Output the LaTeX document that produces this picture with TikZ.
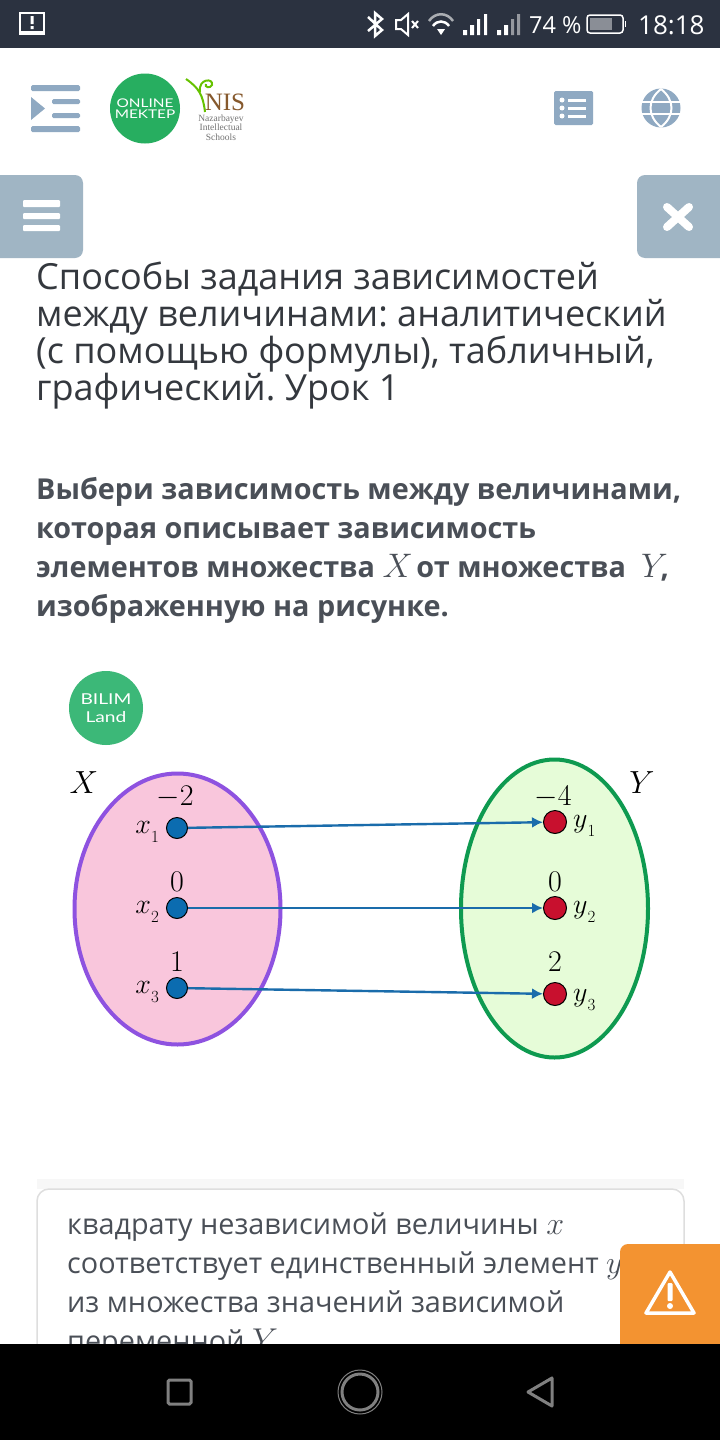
\documentclass[tikz,border=0pt]{standalone}
\usepackage{fix-cm}
\usepackage{fontspec}
\setmainfont{Open Sans}
\newfontfamily\nisfont{Liberation Serif}
\newfontfamily\logofont[FakeStretch=1.28]{Lato}
\usetikzlibrary{shapes.geometric,arrows.meta,positioning}
\definecolor{statusbar}{RGB}{43,50,64}
\definecolor{iconblue}{RGB}{143,169,194}
\definecolor{btngray}{RGB}{160,181,196}
\definecolor{headtext}{RGB}{52,56,62}
\definecolor{asktext}{RGB}{74,79,87}
\definecolor{logogreen}{RGB}{39,174,96}
\definecolor{bilimgreen}{RGB}{60,184,120}
\definecolor{setxfill}{RGB}{249,198,220}
\definecolor{setxline}{RGB}{142,82,224}
\definecolor{setyfill}{RGB}{230,252,216}
\definecolor{setyline}{RGB}{14,154,80}
\definecolor{dotblue}{RGB}{11,108,176}
\definecolor{dotred}{RGB}{200,16,46}
\definecolor{arrowblue}{RGB}{26,108,171}
\definecolor{warn}{RGB}{243,147,49}
\newcommand{\bigmath}[2]{{\fontsize{#1}{#1}\selectfont$#2$}}
\newcommand{\lowsub}[2]{$#1\lower9pt\hbox{\fontsize{17}{17}\selectfont$#2$}$}
\tikzset{head/.style={anchor=base west, inner sep=0pt, text=headtext, font=\frenchspacing\fontsize{36}{36}\selectfont}}
\tikzset{ask/.style={anchor=base west, inner sep=0pt, text=asktext, font=\frenchspacing\bfseries\fontsize{28.8}{30}\selectfont}}
\tikzset{answer/.style={anchor=base west, inner sep=0pt, text=asktext, font=\frenchspacing\fontsize{28.8}{29}\selectfont}}
\tikzset{status/.style={anchor=base west, inner sep=0pt, text=white, font=\fontsize{23.5}{25}\selectfont}}
\tikzset{setx/.style={ellipse, draw=setxline, fill=setxfill, line width=4pt, minimum width=206pt, minimum height=271pt, inner sep=0pt}}
\tikzset{sety/.style={ellipse, draw=setyline, fill=setyfill, line width=4pt, minimum width=187pt, minimum height=298pt, inner sep=0pt}}
\tikzset{xdot/.style={circle, draw=black, fill=dotblue, line width=1pt, minimum size=21pt, inner sep=0pt}}
\tikzset{ydot/.style={circle, draw=black, fill=dotred, line width=1pt, minimum size=23pt, inner sep=0pt}}
\tikzset{val/.style={inner sep=0pt, font=\fontsize{30}{30}\selectfont}}
\tikzset{sub/.style={inner sep=0pt, font=\fontsize{28}{28}\selectfont}}
\tikzset{line/.style={draw=arrowblue, line width=2.4pt, -{Latex[length=11pt,width=11pt]}}}
\tikzset{bar/.style={fill=iconblue, rounded corners=1.5pt}}
\tikzset{btn/.style={fill=btngray, rounded corners=8pt}}
\tikzset{navicon/.style={draw=black!50!white, line width=3pt}}
\begin{document}
\begin{tikzpicture}[x=1pt,y=-1pt,node distance=5pt]
  \useasboundingbox (0,0) rectangle (720,1440);
  \fill[white] (0,0) rectangle (720,1440);

  % status bar
  \fill[statusbar] (0,0) rectangle (720,48);
  \draw[white, line width=2.5pt] (20,13) rectangle (44,32);
  \fill[white] (19,32) rectangle (45,35);
  \fill[white] (30.5,16) rectangle (33.5,24) (30.5,26) rectangle (33.5,29);
  \draw[white, line width=2.5pt] (368,17) -- (382,30) -- (375,36) -- (375,13) -- (382,19) -- (368,31);
  \draw[white, line width=2pt] (396,20) -- (401,20) -- (408,14) -- (408,35) -- (401,29) -- (396,29) -- cycle;
  \draw[white, line width=2pt] (412,21) -- (418,28) (418,21) -- (412,28);
  \draw[white!60!statusbar, line width=2.5pt] (429,21) .. controls (435,12) and (447,12) .. (453,21);
  \draw[white, line width=2.5pt] (433,26) .. controls (437,20) and (445,20) .. (449,26);
  \fill[white] (437,29) -- (445,29) -- (441,35) -- cycle;
  \fill[white] (463,30) rectangle (467,35) (470,25) rectangle (474,35) (477,19) rectangle (480,35) (484,14) rectangle (487,35);
  \fill[white] (497,30) rectangle (501,35) (504,25) rectangle (508,35);
  \fill[white!50!statusbar] (511,19) rectangle (514,35) (517,14) rectangle (520,35);
  \node[status] (level) at (529,33) {74 \%};
  \draw[white, line width=1.5pt, rounded corners=3pt] (587,15) rectangle (623,33);
  \fill[white!45!statusbar] (590,18) rectangle (612,30);
  \fill[white] (624.5,21) rectangle (626,27);
  \node[status, font=\fontsize{26}{27}\selectfont] (clock) at (638,34) {18:18};

  % top bar
  \fill[bar] (31,85) rectangle (80,91) (31,126) rectangle (80,132);
  \fill[bar] (52,99) rectangle (80,104) (52,113) rectangle (80,118);
  \fill[iconblue] (31,97) -- (45,108.5) -- (31,120) -- cycle;
  \node[circle, fill=logogreen, minimum size=70pt, inner sep=0pt, align=center, text=white,
    font=\logofont\fontsize{12}{11}\selectfont] (online) at (145,108.5) {ONLINE\\MEKTEP};
  \draw[green!60!black!60!yellow, line width=2pt] (205,112) .. controls (203,95) and (199,88) .. (186,79);
  \draw[green!60!black!60!yellow, line width=2pt] (200,92) .. controls (198,78) and (214,78) .. (212,85) .. controls (210,89) and (204,87) .. (206,84);
  \node[inner sep=0pt, text=brown!70!black, font=\nisfont\fontsize{25}{25}\selectfont] (nis) at (225,102) {NIS};
  \node[below=4pt of nis, xshift=-4pt, inner sep=0pt, align=center, text=black!55, font=\nisfont\fontsize{9.5}{9.5}\selectfont] (nisname) {Nazarbayev\\Intellectual\\Schools};
  \fill[bar] (554,91) rectangle (593,125);
  \foreach \ypos in {100,108,116} {
    \fill[white] (562,\ypos) circle (2.5pt);
    \fill[white] (568,\ypos-1.5) rectangle (586,\ypos+1.5);
  }
  \fill[iconblue] (661,108) circle (19.5pt);
  \draw[white, line width=2pt] (642,102) -- (680,102) (642,114) -- (680,114);
  \draw[white, line width=2pt] (661,89) .. controls (647,100) and (647,116) .. (661,127);
  \draw[white, line width=2pt] (661,89) .. controls (675,100) and (675,116) .. (661,127);

  % side buttons
  \fill[btn] (-10,175) rectangle (83,258);
  \fill[btn] (637,175) rectangle (730,258);
  \fill[white, rounded corners=1pt] (23,200) rectangle (60,207) (23,213) rectangle (60,219) (23,225) rectangle (60,231);
  \draw[white, line width=8pt, line cap=round] (667,207) -- (689,227) (689,207) -- (667,227);

  % texts
  \node[head] (title1) at (36,289) {Способы задания зависимостей};
  \node[head] (title2) at (36,326) {между величинами: аналитический};
  \node[head] (title3) at (36,363) {(с помощью формулы), табличный,};
  \node[head] (title4) at (36,400) {графический. Урок 1};
  \node[ask] (ask1) at (36,499) {Выбери зависимость между величинами,};
  \node[ask] (ask2) at (36,538) {которая описывает зависимость};
  \node[ask] (ask3) at (36,577) {элементов множества \bigmath{34}{X}\hspace{-4pt} от множества \ \bigmath{34}{Y}\hspace{-7pt},};
  \node[ask] (ask4) at (36,616) {изображенную на рисунке.};

  % diagram
  \node[circle, fill=bilimgreen, minimum size=74pt, inner sep=0pt, align=center, text=white,
    font=\logofont\fontsize{15}{18}\selectfont] (bilim) at (106,708) {BILIM\\Land};
  \node[setx] (setX) at (177.5,909) {};
  \node[sety] (setY) at (554.5,908.5) {};
  \node[xdot] (x1) at (177,828) {};
  \node[xdot] (x2) at (177,908) {};
  \node[xdot] (x3) at (177,988) {};
  \node[ydot] (y1) at (555,822) {};
  \node[ydot] (y2) at (555,908) {};
  \node[ydot] (y3) at (555,994) {};
  \path[line] (x1) -- (y1);
  \path[line] (x2) -- (y2);
  \path[line] (x3) -- (y3);

  \node[val, font=\fontsize{32}{32}\selectfont] (nameX) at (84,783) {$X$};
  \node[val, font=\fontsize{32}{32}\selectfont] (nameY) at (642,783) {$Y$};
  \node[val, above=9pt of x1, xshift=-2pt] (vx1) {$-2$};
  \node[val, above=5pt of x2] (vx2) {$0$};
  \node[val, above=5pt of x3] (vx3) {$1$};
  \node[val, above=2pt of y1, xshift=-2pt] (vy1) {$-4$};
  \node[val, above=4pt of y2] (vy2) {$0$};
  \node[val, above=10pt of y3] (vy3) {$2$};
  \node[sub, left=7pt of x1, yshift=-4pt] (lx1) {\lowsub{x}{1}};
  \node[sub, left=7pt of x2, yshift=-4pt] (lx2) {\lowsub{x}{2}};
  \node[sub, left=7pt of x3, yshift=-4pt] (lx3) {\lowsub{x}{3}};
  \node[sub, right=6pt of y1, yshift=-4pt] (ly1) {\lowsub{y}{1}};
  \node[sub, right=6pt of y2, yshift=-4pt] (ly2) {\lowsub{y}{2}};
  \node[sub, right=6pt of y3, yshift=-6pt] (ly3) {\lowsub{y}{3}};

  % answer card
  \fill[black!3] (37,1179) rectangle (684,1189);
  \draw[black!13, line width=1.5pt, fill=white, rounded corners=12pt] (37,1189) rectangle (684,1400);
  \node[answer] (ans1) at (67,1234) {квадрату независимой величины \bigmath{32}{x}};
  \node[answer] (ans2) at (67,1273) {соответствует единственный элемент \bigmath{32}{y}};
  \node[answer] (ans3) at (67,1312) {из множества значений зависимой};
  \node[answer] (ans4) at (67,1351) {переменной \bigmath{33}{Y}};

  % warning button
  \fill[warn, rounded corners=8pt] (620,1244) rectangle (740,1360);
  \fill[black] (0,1344) rectangle (720,1440);
  \draw[white, line width=3.5pt, line join=round] (670,1272) -- (694,1313) -- (646,1313) -- cycle;
  \fill[white, rounded corners=1pt] (667.5,1283) rectangle (672.5,1301);
  \fill[white] (670,1306) circle (3pt);

  % navigation
  \draw[navicon, rounded corners=1.5pt] (168,1380) rectangle (191,1404);
  \draw[navicon] (360,1392) ellipse (18pt and 18pt);
  \draw[black!50!white, line width=1pt] (360,1392) ellipse (22pt and 22pt);
  \draw[navicon, line join=round] (552,1378) -- (528,1392) -- (552,1406) -- cycle;
\end{tikzpicture}
\end{document}
